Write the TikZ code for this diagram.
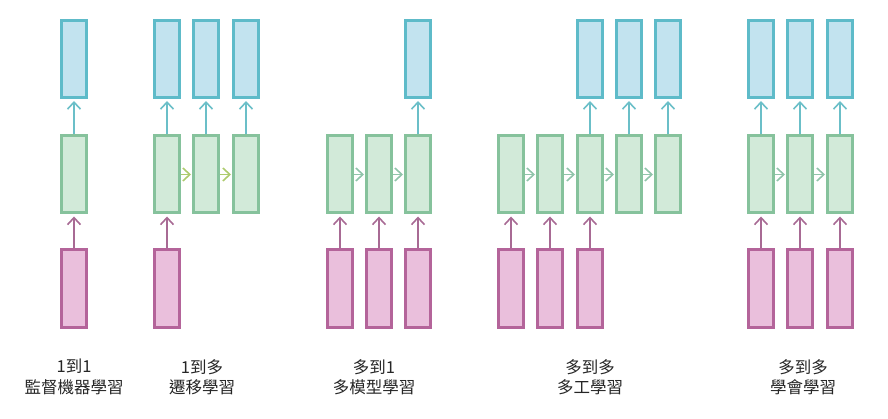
\documentclass[tikz,border=0pt]{standalone}
\usepackage{fontspec}
\newfontfamily\cjkfont{Noto Sans CJK TC}
\usetikzlibrary{arrows.meta}
\definecolor{cyanfill}{HTML}{C2E3EF}
\definecolor{cyanline}{HTML}{5EBBC9}
\definecolor{greenfill}{HTML}{D2EAD9}
\definecolor{greenline}{HTML}{86C29C}
\definecolor{pinkfill}{HTML}{EABFDC}
\definecolor{pinkline}{HTML}{B4649A}
\definecolor{pinkarrow}{HTML}{A86A94}
\definecolor{cyanarrow}{HTML}{6BBFC8}
\definecolor{limearrow}{HTML}{AECB6E}
\definecolor{mintarrow}{HTML}{90C4AA}
\tikzset{
  x=1pt,y=-1pt,
  cell/.style={rectangle,minimum width=25pt,minimum height=77pt,line width=3pt,inner sep=0pt},
  outbox/.style={cell,draw=cyanline,fill=cyanfill},
  hidbox/.style={cell,draw=greenline,fill=greenfill},
  inbox/.style={cell,draw=pinkline,fill=pinkfill},
  tip/.style={-{Straight Barb[length=7pt,width=13pt,line width=1.6pt]}},
  upcyan/.style={draw=cyanarrow,line width=1.6pt,tip,shorten >=2pt},
  uppink/.style={draw=pinkarrow,line width=1.6pt,tip,shorten >=2pt},
  sidelime/.style={draw=limearrow,line width=1.6pt,tip,shorten >=1pt},
  sidemint/.style={draw=mintarrow,line width=1.6pt,tip,shorten >=1pt},
  caption/.style={font=\cjkfont\fontsize{16.5}{20.5}\selectfont,align=center,text=black!85}
}
\begin{document}
\begin{tikzpicture}
\useasboundingbox (0,0) rectangle (888,419);
% rows
\def\yc{59}\def\yg{174.5}\def\yp{288.5}
% group 1
\node[outbox] (a1c) at (74,\yc) {};
\node[hidbox] (a1g) at (74,\yg) {};
\node[inbox]  (a1p) at (74,\yp) {};
\draw[upcyan] (a1g.north) -- (a1c.south);
\draw[uppink] (a1p.north) -- (a1g.south);
% group 2
\node[outbox] (b1c) at (167,\yc) {};
\node[outbox] (b2c) at (206,\yc) {};
\node[outbox] (b3c) at (246,\yc) {};
\node[hidbox] (b1g) at (167,\yg) {};
\node[hidbox] (b2g) at (206,\yg) {};
\node[hidbox] (b3g) at (246,\yg) {};
\node[inbox]  (b1p) at (167,\yp) {};
\draw[upcyan] (b1g.north) -- (b1c.south);
\draw[upcyan] (b2g.north) -- (b2c.south);
\draw[upcyan] (b3g.north) -- (b3c.south);
\draw[uppink] (b1p.north) -- (b1g.south);
\draw[sidelime] (b1g.east) -- (b2g.west);
\draw[sidelime] (b2g.east) -- (b3g.west);
% group 3
\node[outbox] (c3c) at (418,\yc) {};
\node[hidbox] (c1g) at (340,\yg) {};
\node[hidbox] (c2g) at (379,\yg) {};
\node[hidbox] (c3g) at (418,\yg) {};
\node[inbox]  (c1p) at (340,\yp) {};
\node[inbox]  (c2p) at (379,\yp) {};
\node[inbox]  (c3p) at (418,\yp) {};
\draw[upcyan] (c3g.north) -- (c3c.south);
\draw[uppink] (c1p.north) -- (c1g.south);
\draw[uppink] (c2p.north) -- (c2g.south);
\draw[uppink] (c3p.north) -- (c3g.south);
\draw[sidemint] (c1g.east) -- (c2g.west);
\draw[sidemint] (c2g.east) -- (c3g.west);
% group 4
\node[outbox] (d3c) at (590,\yc) {};
\node[outbox] (d4c) at (629,\yc) {};
\node[outbox] (d5c) at (668,\yc) {};
\node[hidbox] (d1g) at (511,\yg) {};
\node[hidbox] (d2g) at (550,\yg) {};
\node[hidbox] (d3g) at (590,\yg) {};
\node[hidbox] (d4g) at (629,\yg) {};
\node[hidbox] (d5g) at (668,\yg) {};
\node[inbox]  (d1p) at (511,\yp) {};
\node[inbox]  (d2p) at (550,\yp) {};
\node[inbox]  (d3p) at (590,\yp) {};
\draw[upcyan] (d3g.north) -- (d3c.south);
\draw[upcyan] (d4g.north) -- (d4c.south);
\draw[upcyan] (d5g.north) -- (d5c.south);
\draw[uppink] (d1p.north) -- (d1g.south);
\draw[uppink] (d2p.north) -- (d2g.south);
\draw[uppink] (d3p.north) -- (d3g.south);
\draw[sidemint] (d1g.east) -- (d2g.west);
\draw[sidemint] (d2g.east) -- (d3g.west);
\draw[sidemint] (d3g.east) -- (d4g.west);
\draw[sidemint] (d4g.east) -- (d5g.west);
% group 5
\node[outbox] (e1c) at (761,\yc) {};
\node[outbox] (e2c) at (800,\yc) {};
\node[outbox] (e3c) at (840,\yc) {};
\node[hidbox] (e1g) at (761,\yg) {};
\node[hidbox] (e2g) at (800,\yg) {};
\node[hidbox] (e3g) at (840,\yg) {};
\node[inbox]  (e1p) at (761,\yp) {};
\node[inbox]  (e2p) at (800,\yp) {};
\node[inbox]  (e3p) at (840,\yp) {};
\draw[upcyan] (e1g.north) -- (e1c.south);
\draw[upcyan] (e2g.north) -- (e2c.south);
\draw[upcyan] (e3g.north) -- (e3c.south);
\draw[uppink] (e1p.north) -- (e1g.south);
\draw[uppink] (e2p.north) -- (e2g.south);
\draw[uppink] (e3p.north) -- (e3g.south);
\draw[sidemint] (e1g.east) -- (e2g.west);
\draw[sidemint] (e2g.east) -- (e3g.west);
% captions
\node[caption] (l1) at (74,377) {1到1\\監督機器學習};
\node[caption] (l2) at (202,377) {1到多\\遷移學習};
\node[caption] (l3) at (374,377) {多到1\\多模型學習};
\node[caption] (l4) at (590,377) {多到多\\多工學習};
\node[caption] (l5) at (803,377) {多到多\\學會學習};
\end{tikzpicture}
\end{document}
